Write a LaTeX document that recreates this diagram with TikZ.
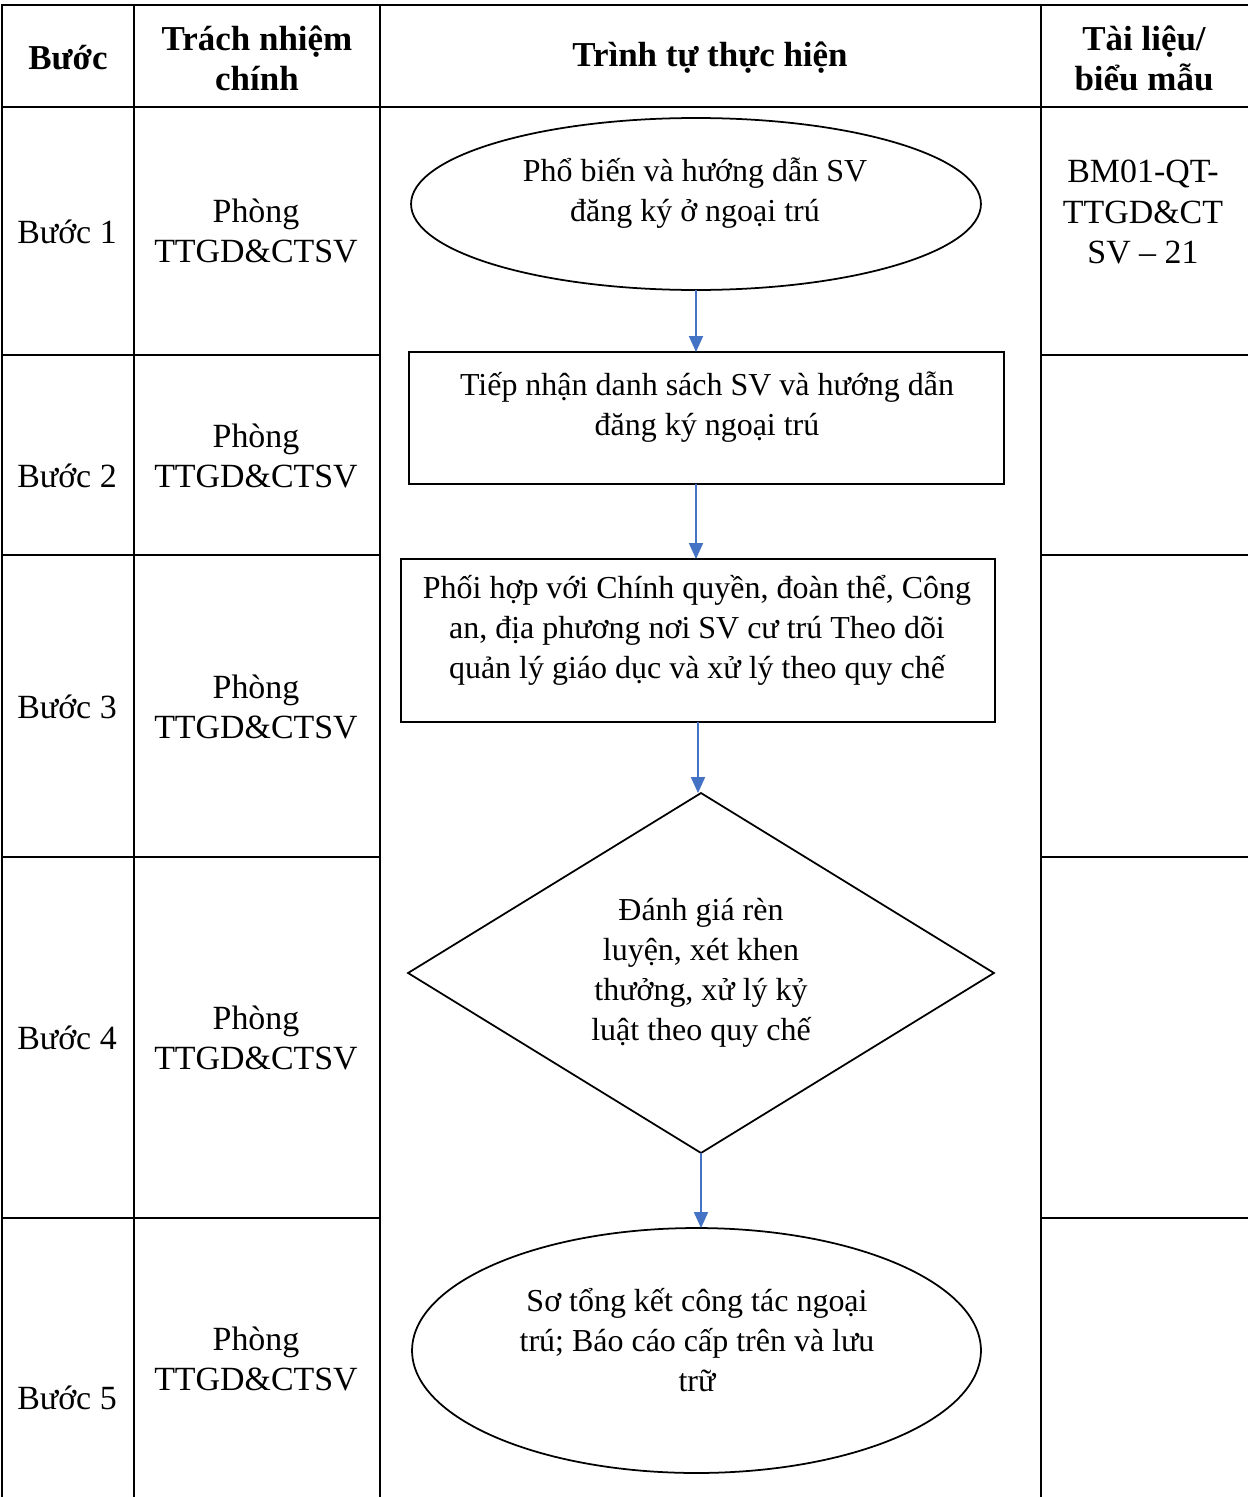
\documentclass[tikz,border=0pt]{standalone}
\usepackage{fontspec}
\setmainfont{Liberation Serif}
\usetikzlibrary{shapes.geometric,arrows.meta}
\definecolor{flowblue}{RGB}{68,114,196}
\tikzset{
    cell/.style={align=center, inner sep=0pt, font={\fontsize{19.3}{22.8}\selectfont}},
    head/.style={cell, font={\fontsize{19.9}{22.8}\selectfont\bfseries}},
    flowtxt/.style={cell, font={\fontsize{18.2}{22.8}\selectfont}},
    grid/.style={line width=1.3pt, black},
    boxline/.style={draw=black, line width=1pt, inner sep=0pt, outer sep=0pt},
    flow/.style={draw=flowblue, line width=1.1pt, -{Triangle[width=0.28cm,length=0.32cm]}},
}

\begin{document}
\begin{tikzpicture}[x=0.02cm, y=-0.02cm]
    \useasboundingbox (0,0) rectangle (1248,1497);
    % Table grid
    \draw[grid] (2,1497) -- (2,5) -- (1248,5);
    \draw[grid] (2,107) -- (1248,107);
    \foreach \x in {134,380,1041} \draw[grid] (\x,5) -- (\x,1497);
    \foreach \y in {355,555,857,1218} {
        \draw[grid] (2,\y) -- (380,\y);
        \draw[grid] (1041,\y) -- (1248,\y);
    }
    % Header row
    \node[head] (hStep) at (68,58) {Bước};
    \node[head] (hResp) at (257,58) {Trách nhiệm\\chính};
    \node[head] (hFlow) at (710,58) {Trình tự thực hiện};
    \node[head] (hDoc) at (1144,58) {Tài liệu/\\biểu mẫu};
    % Steps and who is in charge
    \foreach \i/\yb/\yp in {1/232/231, 2/476/456, 3/707/707, 4/1038/1038, 5/1398/1359} {
        \node[cell] (step\i) at (67,\yb) {Bước \i};
        \node[cell] (resp\i) at (256,\yp) {Phòng\\TTGD\&CTSV};
    }
    % Form
    \node[cell] (doc1) at (1143,212) {BM01-QT-\\TTGD\&CT\\SV -- 21};
    % Flow shapes
    \node[boxline, ellipse, minimum width=11.4cm, minimum height=3.44cm] (s1) at (696,204) {};
    \node[flowtxt] (t1) at (695,193) {Phổ biến và hướng dẫn SV\\đăng ký ở ngoại trú};
    \node[boxline, minimum width=11.9cm, minimum height=2.64cm] (s2) at (706.5,418) {};
    \node[flowtxt] (t2) at (707,407) {Tiếp nhận danh sách SV và hướng dẫn\\đăng ký ngoại trú};
    \node[boxline, minimum width=11.88cm, minimum height=3.26cm] (s3) at (698,640.5) {};
    \node[flowtxt] (t3) at (697,630) {Phối hợp với Chính quyền, đoàn thể, Công\\an, địa phương nơi SV cư trú Theo dõi\\quản lý giáo dục và xử lý theo quy chế};
    \node[boxline, diamond, minimum width=11.72cm, minimum height=7.2cm] (s4) at (701,973) {};
    \node[flowtxt] (t4) at (701,973) {Đánh giá rèn\\luyện, xét khen\\thưởng, xử lý kỷ\\luật theo quy chế};
    \node[boxline, ellipse, minimum width=11.38cm, minimum height=4.9cm] (s5) at (696.5,1350.5) {};
    \node[flowtxt] (t5) at (697,1340) {Sơ tổng kết công tác ngoại\\trú; Báo cáo cấp trên và lưu\\trữ};
    % Arrows
    \draw[flow] (s1.south) -- (s1.south |- s2.north);
    \draw[flow] (s2.south -| s1.south) -- (s1.south |- s3.north);
    \draw[flow] (s3.south) -- (s3.south |- s4.north);
    \draw[flow] (s4.south) -- (s4.south |- s5.north);
\end{tikzpicture}
\end{document}
